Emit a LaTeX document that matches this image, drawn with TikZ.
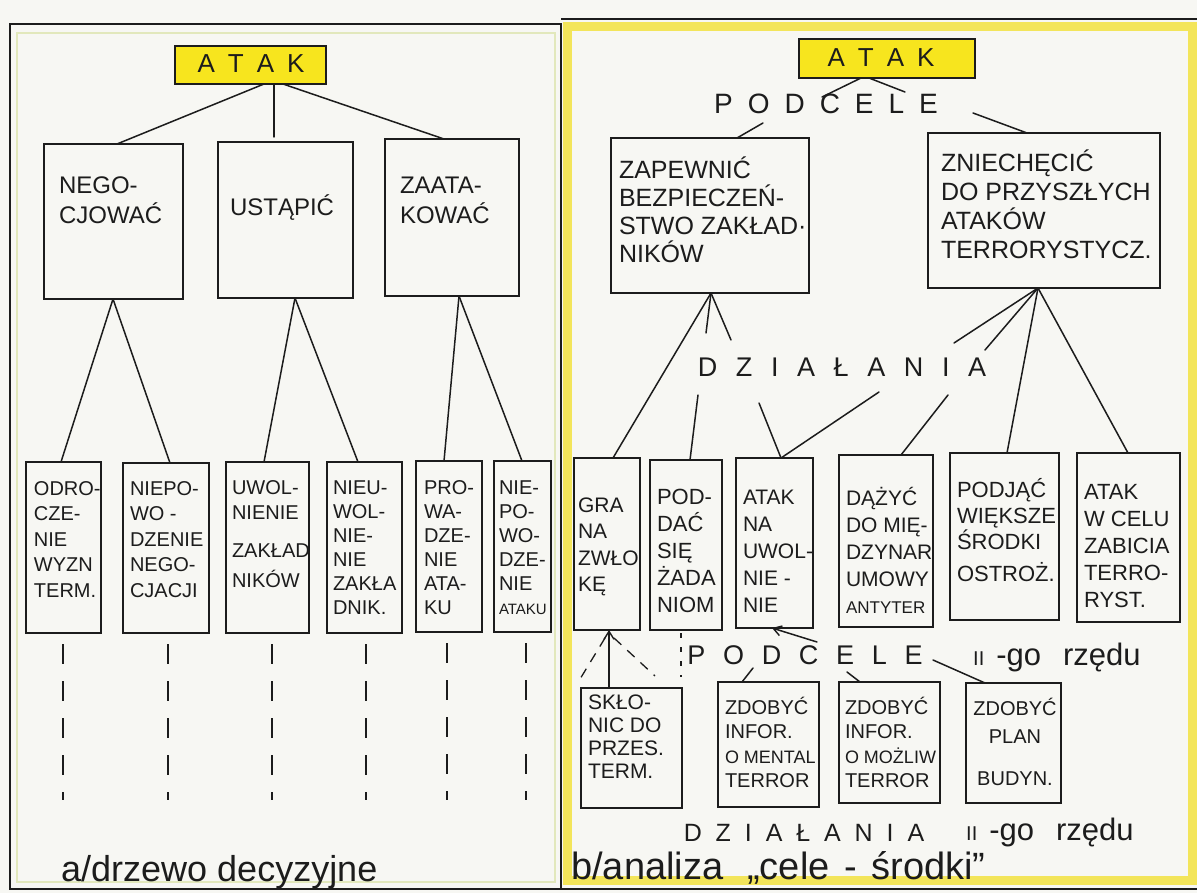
\documentclass[tikz,border=0pt]{standalone}
\usepackage{fontspec}
\setmainfont{Liberation Sans}
\usetikzlibrary{arrows.meta}

\definecolor{paper}{HTML}{F7F7F3}
\definecolor{ink}{HTML}{1C1C1C}
\definecolor{marker}{HTML}{F7E51E}
\definecolor{rim}{HTML}{F3E44A}
\definecolor{faint}{HTML}{E2E8BC}

\newcommand\fs[2]{\fontsize{#1}{#2}\selectfont}
\newcommand\capline{\rule{0pt}{0.95em}}
\newcommand\lgap[1]{\hspace{#1pt}}
% box from its corners: name, x1, y1, x2, y2
\newcommand\boxat[6][]{\node[bx,minimum width=#5-#3,minimum height=#6-#4,#1] (#2) at ({(#3+#5)/2},{(#4+#6)/2}) {};}

\tikzset{
  bx/.style={draw=ink,line width=1.5pt,inner sep=0pt,outer sep=0pt},
  ln/.style={draw=ink,line width=1.5pt,line cap=round},
  dashln/.style={draw=ink,line width=1.5pt,dash pattern=on 20pt off 17pt},
  dashsm/.style={draw=ink,line width=1.3pt,dash pattern=on 10pt off 8pt},
  dotln/.style={draw=ink,line width=1.3pt,dash pattern=on 5pt off 9pt},
  tx/.style={anchor=north west,inner sep=0pt,outer sep=0pt,align=left,text=ink},
  txc/.style={anchor=north,inner sep=0pt,outer sep=0pt,align=center,text=ink},
  lab/.style={anchor=base,inner sep=0pt,text=ink},
  labw/.style={anchor=base west,inner sep=0pt,text=ink},
  tip/.style={-{Straight Barb[length=8pt,width=10pt,line width=1.4pt]}},
}

\begin{document}
\begin{tikzpicture}[x=1pt,y=-1pt]
\useasboundingbox (0,0) rectangle (1197,893);
\fill[paper] (0,0) rectangle (1197,893);

% ---------- frames ----------
\draw[faint,line width=2.5pt] (17,33) rectangle (555,882);
\draw[rim,line width=9pt,opacity=0.9] (567,27) rectangle (1192,880);
\draw[ink,line width=1.5pt] (10,24) rectangle (561,889);
\draw[ink,line width=1.5pt] (561,19) -- (1197,19);
\draw[ink,line width=1.5pt] (561,889) -- (1197,889);

% ================= a) decision tree =================
\boxat[fill=marker]{atakL}{175}{46}{326}{84}
\node[lab,font=\fs{26}{26}] (atakLt) at (251,72.3) {A\lgap{13}T\lgap{13}A\lgap{13}K};

\boxat{nego}{44}{144}{183}{299}
\boxat{ust}{218}{142}{353}{298}
\boxat{zaata}{385}{139}{519}{296}
\node[tx,font=\fs{24}{30}] (negot) at (59,170.8) {\capline NEGO-\\CJOWAĆ};
\node[tx,font=\fs{24}{30}] (ustt) at (230,192.8) {\capline USTĄPIĆ};
\node[tx,font=\fs{24}{30}] (zaatat) at (400,170.8) {\capline ZAATA-\\KOWAĆ};

\boxat{odro}{26}{462}{101}{633}
\boxat{niepo}{123}{463}{209}{633}
\boxat{uwol}{226}{462}{309}{633}
\boxat{nieu}{327}{462}{402}{633}
\boxat{prowa}{416}{461}{482}{632}
\boxat{niepowo}{494}{461}{551}{632}

\node[tx,font=\fs{20}{25.5}] (odrot) at (34,476.2) {\capline ODRO-\\CZE-\\NIE\\WYZN\\TERM.};
\node[tx,font=\fs{20}{25.5}] (niepot) at (130,476.2) {\capline NIEPO-\\WO -\\DZENIE\\NEGO-\\CJACJI};
\node[tx,font=\fs{20}{25}] (uwolt) at (232,475.2) {\capline UWOL-\\NIENIE\\[13pt]ZAKŁAD\\[5pt]NIKÓW};
\node[tx,font=\fs{20}{24}] (nieut) at (333,475.2) {\capline NIEU-\\WOL-\\NIE-\\NIE\\ZAKŁA\\DNIK.};
\node[tx,font=\fs{20}{24}] (prowat) at (424,475.2) {\capline PRO-\\WA-\\DZE-\\NIE\\ATA-\\KU};
\node[tx,font=\fs{20}{24}] (niepowot) at (499,475.2) {\capline NIE-\\PO-\\WO-\\DZE-\\NIE\\{\fs{15}{24}ATAKU}};

% root to first level
\coordinate (ustStub) at (274,137);
\draw[ln] (atakL.south -| 264,0) -- (nego.north -| 117,0);
\draw[ln] (atakL.south -| 274,0) -- (ustStub);
\draw[ln] (atakL.south -| 283,0) -- (zaata.north -| 444,0);

% first level to outcomes
\draw[ln] (nego.south -| 113,0) -- (odro.north -| 61,0);
\draw[ln] (nego.south -| 113,0) -- (niepo.north -| 170,0);
\draw[ln] (ust.south -| 295,0) -- (uwol.north -| 264,0);
\draw[ln] (ust.south -| 295,0) -- (nieu.north -| 358,0);
\draw[ln] (zaata.south -| 459,0) -- (prowa.north -| 444,0);
\draw[ln] (zaata.south -| 459,0) -- (niepowo.north -| 522,0);

% continuation below the outcomes
\foreach \n/\x in {odro/63,niepo/168,uwol/272,nieu/366,prowa/447,niepowo/526}{
  \coordinate (\n-end) at (\x,800);
  \draw[dashln,shorten <=11pt] (\n.south -| \x,0) -- (\n-end);
}

\node[labw,font=\fs{36}{36}] (capA) at (61,881) {a/drzewo decyzyjne};

% ================= b) means-ends analysis =================
\boxat[fill=marker]{atakR}{799}{39}{975}{78}
\node[lab,font=\fs{26}{26}] (atakRt) at (881,66.3) {A\lgap{13}T\lgap{13}A\lgap{13}K};

\node[lab,font=\fs{28}{28}] (podcele1) at (826,114) {P\lgap{15}O\lgap{15}D\lgap{15}C\lgap{15}E\lgap{15}L\lgap{15}E};

\boxat{zap}{611}{138}{809}{293}
\boxat{znie}{928}{133}{1160}{288}
\node[tx,font=\fs{25}{28}] (zapt) at (619,155.2) {\capline ZAPEWNIĆ\\BEZPIECZEŃ-\\STWO ZAKŁAD·\\NIKÓW};
\node[tx,font=\fs{25}{29}] (zniet) at (941,148.2) {\capline ZNIECHĘCIĆ\\DO PRZYSZŁYCH\\ATAKÓW\\TERRORYSTYCZ.};

\node[lab,font=\fs{27}{27}] (dzial1) at (842,376.7) {D\lgap{18.6}Z\lgap{18.6}I\lgap{18.6}A\lgap{18.6}Ł\lgap{18.6}A\lgap{18.6}N\lgap{18.6}I\lgap{18.6}A};

\boxat{gra}{574}{458}{640}{630}
\boxat{pod}{650}{460}{722}{630}
\boxat{atn}{736}{458}{813}{628}
\boxat{daz}{839}{455}{933}{627}
\boxat{pj}{950}{453}{1059}{620}
\boxat{awc}{1077}{453}{1180}{622}

\node[tx,font=\fs{21}{26.3}] (grat) at (578,492.6) {\capline GRA\\NA\\ZWŁO\\KĘ};
\node[tx,font=\fs{22}{27}] (podt) at (657,484) {\capline POD-\\DAĆ\\SIĘ\\ŻADA\\NIOM};
\node[tx,font=\fs{21}{27}] (atnt) at (743,484.6) {\capline ATAK\\NA\\UWOL-\\NIE -\\NIE};
\node[tx,font=\fs{21}{27}] (dazt) at (846,485.6) {\capline DĄŻYĆ\\DO MIĘ-\\DZYNAR\\UMOWY\\{\fs{17}{27}ANTYTER}};
\node[tx,font=\fs{22}{26}] (pjt) at (957,477) {\capline PODJĄĆ\\WIĘKSZE\\ŚRODKI\\[6pt]OSTROŻ.};
\node[tx,font=\fs{22}{27}] (awct) at (1084,479) {\capline ATAK\\W CELU\\ZABICIA\\TERRO-\\RYST.};

% root to subgoals
\coordinate (pcA) at (822,97);
\coordinate (pcB) at (905,92);
\coordinate (pcL) at (763,123);
\coordinate (pcR) at (973,113);
\draw[ln] (atakR.south -| 861,0) -- (pcA);
\draw[ln] (atakR.south -| 869,0) -- (pcB);
\draw[ln] (pcL) -- (zap.north -| 737,0);
\draw[ln] (pcR) -- (znie.north -| 1027,0);

% actions to subgoals
\coordinate (s1) at (706,333);
\coordinate (s2) at (731,340);
\coordinate (s3) at (954,343);
\coordinate (s4) at (985,350);
\draw[ln] (zap.south -| 711,0) -- (gra.north -| 613,0);
\draw[ln] (zap.south -| 711,0) -- (s1);
\draw[ln] (zap.south -| 711,0) -- (s2);
\draw[ln] (znie.south -| 1038,0) -- (s3);
\draw[ln] (znie.south -| 1038,0) -- (s4);
\draw[ln] (znie.south -| 1038,0) -- (pj.north -| 1007,0);
\draw[ln] (znie.south -| 1038,0) -- (awc.north -| 1128,0);

\coordinate (d1) at (698,395);
\coordinate (d2) at (759,403);
\coordinate (d3) at (879,392);
\coordinate (d4) at (948,395);
\draw[ln] (d1) -- (pod.north -| 690,0);
\draw[ln] (d2) -- (atn.north -| 781,0);
\draw[ln] (d3) -- (atn.north -| 781,0);
\draw[ln] (d4) -- (daz.north -| 901,0);

% second-order subgoals and actions
\node[lab,font=\fs{27}{27}] (podcele2) at (805,664.7) {P\lgap{17.7}O\lgap{17.7}D\lgap{17.7}C\lgap{17.7}E\lgap{17.7}L\lgap{17.7}E};
\node[labw,font=\fs{31}{31}] (ord1) at (973,665) {{\fs{20}{20}II}\lgap{12}-go\lgap{22}rzędu};

\boxat{skl}{581}{688}{682}{808}
\boxat{zd1}{718}{682}{819}{807}
\boxat{zd2}{839}{682}{940}{803}
\boxat{zd3}{966}{683}{1061}{803}

\node[tx,font=\fs{21}{23}] (sklt) at (588,689.6) {\capline SKŁO-\\NIC DO\\PRZES.\\TERM.};
\node[tx,font=\fs{20}{24.5}] (zd1t) at (725,695.2) {\capline ZDOBYĆ\\INFOR.\\{\fs{18}{24.5}O MENTAL}\\TERROR};
\node[tx,font=\fs{20}{24.5}] (zd2t) at (845,695.2) {\capline ZDOBYĆ\\INFOR.\\{\fs{18}{24.5}O MOŻLIW}\\TERROR};
\node[txc,font=\fs{20}{28}] (zd3t) at (1015,696.2) {\capline ZDOBYĆ\\PLAN\\[14pt]BUDYN.};

\draw[ln,tip] (skl.north -| 609,0) -- (gra.south -| 609,0);
\coordinate (gl) at (577,684);
\coordinate (gr) at (655,676);
\draw[dashsm] (gra.south -| 605,0) ++(0,8) -- (gl);
\draw[dashsm] (gra.south -| 614,0) ++(0,8) -- (gr);
\coordinate (podEnd) at (681,677);
\draw[dotln,shorten <=3pt] (pod.south -| 681,0) -- (podEnd);
\coordinate (atnFrom) at (817,642);
\draw[ln,tip] (atnFrom) -- (atn.south -| 772,0);

\coordinate (p2a) at (753,668);
\coordinate (p2b) at (847,672);
\coordinate (p2c) at (933,660);
\draw[ln] (p2a) -- (zd1.north -| 742,0);
\draw[ln] (p2b) -- (zd2.north -| 860,0);
\draw[ln] (p2c) -- (zd3.north -| 985,0);

\node[lab,font=\fs{25}{25}] (dzial2) at (804,841) {D\lgap{13.9}Z\lgap{13.9}I\lgap{13.9}A\lgap{13.9}Ł\lgap{13.9}A\lgap{13.9}N\lgap{13.9}I\lgap{13.9}A};
\node[labw,font=\fs{31}{31}] (ord2) at (966,840) {{\fs{20}{20}II}\lgap{12}-go\lgap{22}rzędu};

\node[labw,font=\fs{38}{38}] (capB) at (571,879) {b/analiza\lgap{24}„cele\lgap{4} - \lgap{4}środki”};

\end{tikzpicture}
\end{document}
